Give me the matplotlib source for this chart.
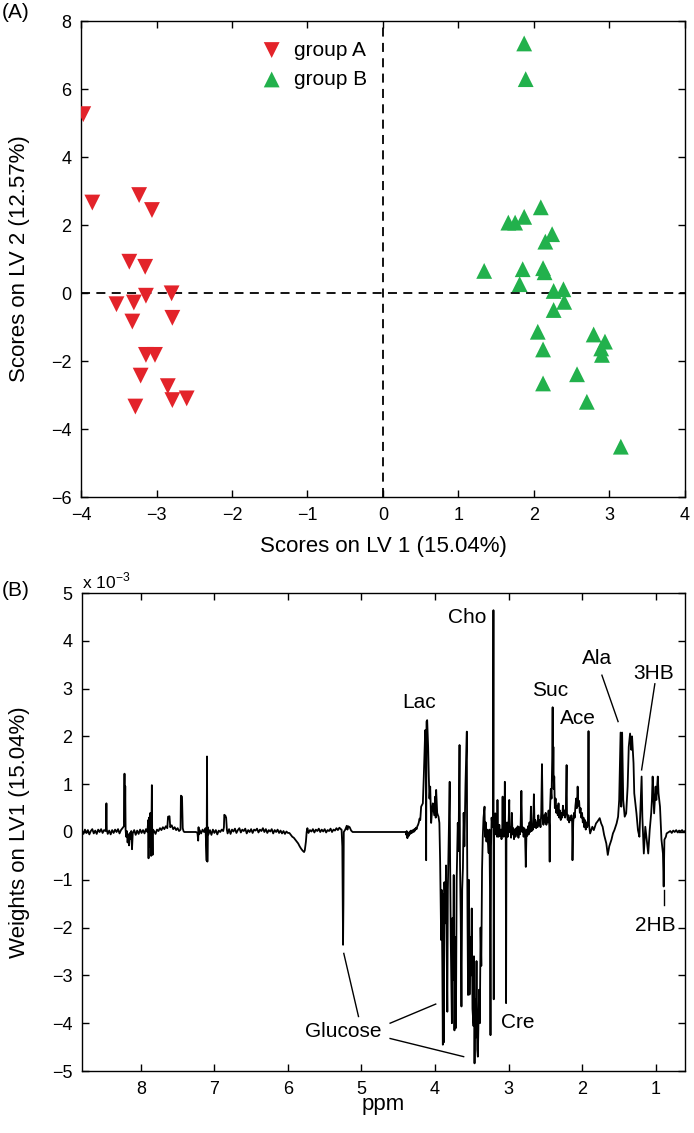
import matplotlib
matplotlib.use("Agg")
import matplotlib.pyplot as plt

plt.rcParams['font.family'] = ['Liberation Sans', 'DejaVu Sans']

# ---- panel A: PLS-DA scores ----
groupA_x = [-3.97, -3.85, -3.23, -3.06, -3.36, -3.15, -3.53, -3.30, -3.14, -2.80,
            -3.32, -2.79, -3.14, -3.02, -3.21, -2.85, -2.79, -2.60, -3.28]
groupA_y = [5.26, 2.66, 2.88, 2.44, 0.92, 0.77, -0.33, -0.28, -0.08, -0.01,
            -0.84, -0.73, -1.82, -1.82, -2.43, -2.74, -3.15, -3.10, -3.34]
groupB_x = [1.87, 1.89, 2.09, 1.66, 1.75, 1.87, 2.24, 2.15, 1.34, 1.85, 2.12, 2.14,
            1.81, 2.26, 2.39, 2.40, 2.26, 2.05, 2.12, 2.79, 2.94, 2.89, 2.90, 2.12,
            2.57, 2.70, 3.15]
groupB_y = [7.34, 6.29, 2.52, 2.07, 2.07, 2.24, 1.73, 1.51, 0.65, 0.70, 0.73, 0.61,
            0.26, 0.06, 0.11, -0.26, -0.50, -1.14, -1.66, -1.22, -1.43, -1.63, -1.82,
            -2.66, -2.39, -3.20, -4.52]

# ---- panel B: LV1 weights (x 1e-3), (ppm, weight) ----
spectrum_pts = [
    (8.80, 0.03), (8.78, -0.04), (8.76, 0.05), (8.74, -0.02), (8.72, 0.04), (8.70, -0.05),
    (8.68, 0.02), (8.66, 0.06), (8.64, -0.03), (8.62, 0.03), (8.60, -0.04), (8.58, 0.05),
    (8.56, 0.00), (8.54, 0.06), (8.52, -0.02), (8.50, 0.04), (8.48, 0.02), (8.473, 0.10),
    (8.468, 0.60), (8.463, 0.05), (8.45, -0.04), (8.43, 0.03), (8.41, -0.05), (8.39, 0.04),
    (8.37, -0.02), (8.35, 0.05), (8.33, 0.00), (8.31, 0.06), (8.29, -0.03), (8.27, 0.04),
    (8.25, 0.08), (8.23, 0.12), (8.222, 1.22), (8.217, 0.20), (8.212, 0.96), (8.207, 0.05),
    (8.20, -0.10), (8.19, 0.02), (8.18, -0.22), (8.17, -0.05), (8.16, -0.28), (8.15, -0.02),
    (8.14, -0.15), (8.13, 0.02), (8.12, -0.36), (8.11, -0.03), (8.09, 0.04), (8.07, -0.06),
    (8.05, 0.03), (8.03, -0.04), (8.01, 0.05), (7.99, -0.02), (7.97, 0.04), (7.95, -0.03),
    (7.93, 0.06), (7.91, 0.00), (7.90, 0.25), (7.895, -0.55), (7.89, 0.30), (7.885, -0.30),
    (7.88, 0.10), (7.87, 0.40), (7.865, -0.05), (7.86, -0.50), (7.855, 0.30), (7.85, 0.98),
    (7.845, -0.10), (7.84, -0.48), (7.835, 0.05), (7.82, 0.02), (7.80, -0.04), (7.78, 0.05),
    (7.76, 0.02), (7.74, 0.08), (7.72, 0.04), (7.70, 0.10), (7.68, 0.06), (7.66, 0.12),
    (7.64, 0.08), (7.63, 0.32), (7.61, 0.33), (7.60, 0.10), (7.58, 0.14), (7.56, 0.06),
    (7.54, 0.10), (7.52, 0.04), (7.50, 0.08), (7.48, 0.02), (7.46, 0.05), (7.455, 0.76),
    (7.44, 0.74), (7.43, 0.08), (7.42, 0.02), (7.41, 0.00), (7.25, 0.00), (7.23, -0.02),
    (7.22, -0.18), (7.215, 0.10), (7.21, -0.05), (7.20, 0.04), (7.18, -0.03), (7.16, 0.05),
    (7.14, 0.00), (7.12, 0.08), (7.105, -0.60), (7.10, 1.58), (7.095, -0.62), (7.09, 0.10),
    (7.08, -0.05), (7.06, 0.04), (7.04, -0.06), (7.02, 0.05), (7.00, -0.02), (6.98, 0.04),
    (6.96, -0.05), (6.94, 0.03), (6.92, 0.00), (6.90, 0.05), (6.88, 0.02), (6.87, 0.10),
    (6.865, 0.36), (6.85, 0.34), (6.84, 0.30), (6.83, 0.05), (6.82, -0.03), (6.80, 0.06),
    (6.78, -0.04), (6.76, 0.05), (6.74, 0.01), (6.72, 0.07), (6.70, -0.02), (6.68, 0.04),
    (6.66, 0.08), (6.64, -0.01), (6.62, 0.05), (6.60, 0.02), (6.58, 0.07), (6.56, -0.03),
    (6.54, 0.04), (6.52, 0.00), (6.50, 0.06), (6.48, -0.02), (6.46, 0.05), (6.44, 0.03),
    (6.42, 0.07), (6.40, -0.01), (6.38, 0.05), (6.36, 0.02), (6.34, 0.08), (6.32, 0.00),
    (6.30, 0.06), (6.28, -0.02), (6.26, 0.04), (6.24, 0.01), (6.22, 0.06), (6.20, -0.03),
    (6.18, 0.04), (6.16, 0.00), (6.14, 0.05), (6.12, -0.02), (6.10, 0.03), (6.08, -0.03),
    (6.06, 0.02), (6.04, -0.04), (6.02, 0.01), (6.00, -0.02), (5.98, -0.02), (5.96, -0.06),
    (5.94, -0.10), (5.92, -0.12), (5.90, -0.16), (5.88, -0.20), (5.86, -0.24), (5.84, -0.30),
    (5.82, -0.35), (5.80, -0.39), (5.78, -0.42), (5.77, -0.38), (5.755, -0.20), (5.745, 0.00),
    (5.735, 0.08), (5.72, -0.02), (5.70, 0.04), (5.68, 0.01), (5.66, 0.06), (5.64, -0.01),
    (5.62, 0.05), (5.60, 0.02), (5.58, 0.07), (5.56, 0.00), (5.54, 0.05), (5.52, 0.01),
    (5.50, 0.06), (5.48, -0.01), (5.46, 0.04), (5.44, 0.02), (5.42, 0.07), (5.40, 0.00),
    (5.38, 0.05), (5.36, 0.03), (5.34, 0.08), (5.32, 0.04), (5.30, 0.09), (5.28, 0.06),
    (5.27, 0.05), (5.26, -0.30), (5.25, -2.36), (5.245, -1.50), (5.24, 0.00), (5.22, 0.05),
    (5.20, 0.13), (5.19, 0.05), (5.18, 0.12), (5.16, 0.10), (5.14, 0.03), (5.12, 0.00),
    (4.40, 0.00), (4.39, -0.06), (4.385, 0.02), (4.375, -0.13), (4.365, -0.02), (4.355, -0.08),
    (4.345, 0.01), (4.335, -0.04), (4.325, 0.03), (4.315, -0.02), (4.30, 0.04), (4.29, 0.00),
    (4.28, 0.06), (4.27, 0.03), (4.26, 0.09), (4.25, 0.06), (4.24, 0.12), (4.23, 0.15),
    (4.22, 0.20), (4.21, 0.28), (4.20, 0.25), (4.188, 0.53), (4.165, 0.60), (4.152, 1.16),
    (4.133, 2.13), (4.124, 1.60), (4.12, -0.59), (4.115, 2.31), (4.106, 2.34), (4.093, 1.78),
    (4.084, 1.16), (4.075, 0.70), (4.065, 0.95), (4.052, 0.19), (4.04, 0.45), (4.029, 0.60),
    (4.01, 0.35), (3.997, 0.74), (3.99, 0.30), (3.984, 0.88), (3.97, 0.40), (3.96, 0.35),
    (3.952, 0.32), (3.94, 0.19), (3.93, -0.60), (3.916, -2.26), (3.91, -1.21), (3.90, -2.80),
    (3.893, -4.45), (3.887, -1.30), (3.88, -4.40), (3.872, -1.05), (3.86, -1.91), (3.85, -0.70),
    (3.84, -2.60), (3.832, -3.76), (3.825, -1.20), (3.815, -0.30), (3.80, 1.05), (3.795, -0.40),
    (3.785, -2.30), (3.77, -4.00), (3.762, -1.80), (3.755, -3.10), (3.745, -0.90), (3.735, -4.15),
    (3.725, -2.20), (3.715, -4.10), (3.705, -1.00), (3.69, 0.19), (3.68, -0.40), (3.666, 1.82),
    (3.66, -0.60), (3.65, -1.80), (3.64, -3.65), (3.63, -1.20), (3.62, -0.75), (3.61, 0.40),
    (3.60, -0.30), (3.585, 1.00), (3.567, 2.10), (3.563, -0.20), (3.557, -1.90), (3.55, -3.41),
    (3.54, -1.00), (3.53, -3.40), (3.52, -2.20), (3.51, -3.00), (3.50, -1.60), (3.49, -3.70),
    (3.476, -4.06), (3.47, -2.60), (3.462, -4.84), (3.455, -3.50), (3.445, -4.30), (3.435, -2.70),
    (3.425, -4.55), (3.417, -4.70), (3.40, -3.30), (3.39, -4.00), (3.38, -2.00), (3.37, -2.80),
    (3.36, -0.80), (3.35, -0.10), (3.34, 0.30), (3.326, 0.53), (3.32, -0.10), (3.31, 0.20),
    (3.30, -0.20), (3.29, 0.05), (3.28, -0.23), (3.27, -0.44), (3.26, 0.05), (3.252, -1.20),
    (3.245, -4.25), (3.238, -0.30), (3.23, 0.30), (3.22, 0.10), (3.21, 0.20), (3.205, 4.64),
    (3.201, -3.50), (3.196, 0.20), (3.19, 0.05), (3.18, 0.39), (3.175, -0.05), (3.165, 0.10),
    (3.155, -0.10), (3.15, 0.67), (3.145, 0.00), (3.135, -0.10), (3.125, 0.15), (3.115, -0.08),
    (3.105, 0.05), (3.095, -0.15), (3.085, 0.10), (3.08, 0.74), (3.075, 0.00), (3.065, -0.10),
    (3.055, 0.20), (3.05, 1.05), (3.045, -0.05), (3.038, 0.10), (3.033, -3.58), (3.028, 0.05),
    (3.02, 0.20), (3.01, -0.10), (3.00, 0.10), (2.99, 0.67), (2.985, 0.00), (2.975, 0.10),
    (2.965, -0.12), (2.955, 0.40), (2.945, -0.05), (2.935, 0.08), (2.925, -0.15), (2.915, 0.05),
    (2.905, -0.10), (2.895, 0.08), (2.885, -0.05), (2.875, 0.12), (2.865, -0.12), (2.855, 0.10),
    (2.845, -0.05), (2.835, 0.15), (2.825, 0.86), (2.815, 0.00), (2.805, 0.10), (2.795, -0.10),
    (2.785, 0.08), (2.775, -0.05), (2.765, -0.73), (2.755, 0.05), (2.745, -0.08), (2.735, 0.12),
    (2.725, -0.05), (2.715, 0.20), (2.705, 0.00), (2.695, 0.53), (2.685, 0.02), (2.675, 0.15),
    (2.665, 0.05), (2.655, 0.79), (2.645, 0.10), (2.635, 0.25), (2.625, 0.08), (2.615, 0.20),
    (2.605, 0.10), (2.595, 0.35), (2.585, 0.15), (2.575, 0.25), (2.565, 0.10), (2.555, 0.40),
    (2.545, 1.42), (2.535, 0.30), (2.525, 0.15), (2.515, 0.35), (2.505, 0.20), (2.495, 0.40),
    (2.485, 0.15), (2.475, 0.30), (2.465, 0.20), (2.455, 0.45), (2.445, 0.10), (2.44, -0.62),
    (2.435, 0.50), (2.425, 0.90), (2.415, 0.70), (2.405, 1.60), (2.40, 2.61), (2.395, 1.10),
    (2.39, 1.78), (2.385, 0.90), (2.378, 1.16), (2.37, 0.50), (2.36, 0.70), (2.35, 0.40),
    (2.34, 0.55), (2.33, 0.35), (2.32, 0.60), (2.31, 0.30), (2.30, 0.45), (2.29, 0.25),
    (2.28, 0.40), (2.27, 0.30), (2.26, 0.55), (2.25, 0.35), (2.24, 0.45), (2.23, 0.30),
    (2.22, 0.50), (2.21, 1.40), (2.205, 0.40), (2.195, 0.25), (2.185, 0.35), (2.175, 0.20),
    (2.165, 0.30), (2.155, 0.25), (2.145, 0.35), (2.135, 0.20), (2.13, -0.59), (2.12, 0.20),
    (2.11, 0.40), (2.10, 0.30), (2.09, 0.55), (2.08, 0.70), (2.07, 0.50), (2.06, 0.95),
    (2.05, 0.55), (2.04, 0.65), (2.03, 0.40), (2.02, 0.50), (2.01, 0.30), (2.00, 0.40),
    (1.99, 0.20), (1.98, 0.30), (1.97, 0.10), (1.96, 0.25), (1.95, 0.05), (1.94, 0.20),
    (1.93, 0.10), (1.92, 0.25), (1.912, 2.11), (1.905, 0.15), (1.89, -0.03), (1.86, 0.11),
    (1.84, 0.04), (1.81, 0.18), (1.79, 0.22), (1.76, 0.29), (1.74, 0.18), (1.72, 0.11),
    (1.70, -0.06), (1.67, -0.24), (1.65, -0.48), (1.63, -0.30), (1.60, -0.16), (1.58, -0.03),
    (1.56, 0.04), (1.53, 0.18), (1.51, 0.32), (1.495, 0.67), (1.476, 2.08), (1.467, 0.53),
    (1.455, 2.08), (1.44, 0.67), (1.42, 0.32), (1.40, 0.39), (1.38, 0.95), (1.365, 1.78),
    (1.347, 2.06), (1.33, 1.72), (1.32, 2.00), (1.30, 1.44), (1.29, 0.81), (1.26, 0.39),
    (1.24, 0.04), (1.22, -0.10), (1.21, 0.32), (1.19, 1.16), (1.18, 0.32), (1.16, -0.45),
    (1.14, 0.11), (1.13, -0.03), (1.10, -0.45), (1.08, 0.04), (1.06, 0.39), (1.05, 0.67),
    (1.04, 1.16), (1.02, 0.39), (1.00, 0.95), (0.99, 0.67), (0.97, 1.16), (0.96, 0.81),
    (0.94, 0.53), (0.92, -0.16), (0.90, -0.45), (0.89, -1.14), (0.88, -0.16), (0.86, -0.10),
    (0.85, -0.03), (0.81, 0.01), (0.80, 0.02), (0.78, -0.02), (0.76, 0.03), (0.74, 0.00),
    (0.72, 0.04), (0.70, -0.01), (0.68, 0.03), (0.66, 0.01), (0.64, 0.04), (0.62, 0.00),
    (0.60, 0.02),
]
spec_ppm, spec_w = zip(*spectrum_pts)

# metabolite labels: text position, leader lines
met_labels = [
    ("Cho", 3.56, 4.48, []),
    ("Lac", 4.21, 2.70, []),
    ("Suc", 2.44, 2.97, []),
    ("Ace", 2.06, 2.38, []),
    ("Ala", 1.79, 3.63, [((1.73, 3.28), (1.51, 2.31))]),
    ("3HB", 1.02, 3.32, [((1.01, 3.10), (1.19, 1.30))]),
    ("2HB", 1.00, -1.95, [((0.89, -1.21), (0.89, -1.53))]),
    ("Glucose", 5.25, -4.18, [((5.04, -3.86), (5.24, -2.54)),
                              ((4.61, -4.00), (3.99, -3.60)),
                              ((4.61, -4.32), (3.61, -4.70))]),
    ("Cre", 2.88, -3.99, []),
]

red = '#E3232A'
green = '#22B14C'

fig = plt.figure(figsize=(6.94, 11.33), dpi=100)
ax1 = fig.add_axes([81/694, 1-497/1133, 604/694, 476/1133])
ax2 = fig.add_axes([82/694, 1-1071/1133, 603/694, 478/1133])

ax1.axhline(0, color='k', ls=(0, (5, 3.5)), lw=1.3, zorder=1)
ax1.axvline(0, color='k', ls=(0, (5, 3.5)), lw=1.3, zorder=1)
ax1.scatter(groupA_x, groupA_y, marker='v', s=130, c=red, edgecolors='none', label='group A', zorder=3)
ax1.scatter(groupB_x, groupB_y, marker='^', s=130, c=green, edgecolors='none', label='group B', zorder=3)
ax1.set_xlim(-4, 4)
ax1.set_ylim(-6, 8)
ax1.set_xticks(range(-4, 5))
ax1.set_yticks(range(-6, 9, 2))
ax1.set_xlabel('Scores on LV 1 (15.04%)', fontsize=16, va='center')
ax1.set_ylabel('Scores on LV 2 (12.57%)', fontsize=16, va='center')
ax1.xaxis.set_label_coords(0.5, -0.105)
ax1.yaxis.set_label_coords(-0.101, 0.5)
ax1.legend(loc='upper left', bbox_to_anchor=(0.295, 0.959), frameon=False, fontsize=15,
           borderaxespad=0, borderpad=0, handlelength=1.2, handletextpad=0.45,
           labelspacing=0.5, scatterpoints=1)

ax2.plot(spec_ppm, spec_w, color='k', lw=1.3)
ax2.set_xlim(8.8, 0.6)
ax2.set_ylim(-5, 5)
ax2.set_xticks(range(1, 9))
ax2.set_yticks(range(-5, 6))
ax2.set_xlabel('ppm', fontsize=16, va='center')
ax2.set_ylabel('Weights on LV1 (15.04%)', fontsize=16, va='center')
ax2.xaxis.set_label_coords(0.5, -0.071)
ax2.yaxis.set_label_coords(-0.103, 0.5)
ax2.text(0.0, 1.025, r'x 10$^{\mathregular{-3}}$', transform=ax2.transAxes,
         fontsize=12.5, ha='left', va='center')

for name, tx, ty, leaders in met_labels:
    ax2.text(tx, ty, name, fontsize=15, ha='center', va='center')
    for (x0, y0), (x1, y1) in leaders:
        ax2.plot([x0, x1], [y0, y1], color='k', lw=1.0)

for ax in (ax1, ax2):
    ax.tick_params(direction='in', top=True, right=True, length=5, width=1,
                   labelsize=13, pad=7)
    for sp in ax.spines.values():
        sp.set_linewidth(1.0)

fig.text(0.003, 1 - 12/1133, '(A)', fontsize=15, ha='left', va='center')
fig.text(0.003, 1 - 590/1133, '(B)', fontsize=15, ha='left', va='center')

fig.savefig('out.png', dpi=100)
